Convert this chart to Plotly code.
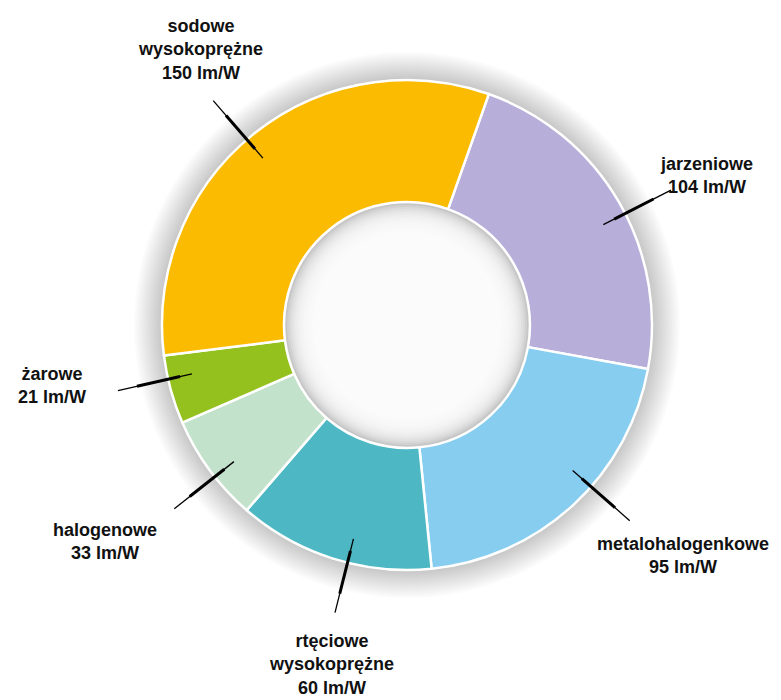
import math
import plotly.graph_objects as go

# Luminous efficacy of lamp types (lm/W)
names = ["jarzeniowe", "metalohalogenkowe", "rtęciowe<br>wysokoprężne",
         "halogenowe", "żarowe", "sodowe<br>wysokoprężne"]
efficacy = [104, 95, 60, 33, 21, 150]
unit = "lm/W"
colors = ["#B7AEDA", "#86CDF0", "#4DB8C3", "#C3E2CB", "#95C11F", "#FBBB00"]

W, H = 781, 700
CX, CY, R = 407, 325, 245          # donut centre and outer radius (px)
HOLE = 0.502
ROT = 19.5                          # first slice starts this many degrees clockwise from 12 o'clock


def px(x, y):
    return x / W, 1 - y / H


fig = go.Figure(go.Pie(
    values=efficacy,
    labels=[n.replace("<br>", " ") for n in names],
    sort=False,
    direction="clockwise",
    rotation=ROT,
    hole=HOLE,
    marker=dict(colors=colors, line=dict(color="white", width=2.5)),
    textinfo="none",
    hoverinfo="label+value",
    showlegend=False,
    domain=dict(x=[(CX - R) / W, (CX + R) / W],
                y=[1 - (CY + R) / H, 1 - (CY - R) / H]),
))

shapes = []
ax, ay = px(CX, CY)


def circle(r, fill, layer="below"):
    return dict(type="circle", xref="paper", yref="paper",
                xsizemode="pixel", ysizemode="pixel",
                xanchor=ax, yanchor=ay,
                x0=-r, x1=r, y0=-r, y1=r,
                fillcolor=fill, line=dict(width=0), layer=layer)


# soft grey halo around the ring
for k in range(28, 0, -2):
    shapes.append(circle(R + k, "rgba(0,0,0,0.014)"))

# shaded hollow in the middle, fading to white
r_in = R * HOLE - 2
shapes.append(circle(r_in, "#c6c6c6"))
r = r_in - 1
while r > 88:
    shapes.append(circle(r, "rgba(255,255,255,0.2)"))
    r -= 2

# leader lines, drawn radially through the middle of each slice
total = sum(efficacy)
angle_adjust = [3, -6, -3.5, -2, 2.5, -2]
start = ROT
mids = []
for v, adj in zip(efficacy, angle_adjust):
    span = v / total * 360
    mids.append(start + span / 2 + adj)
    start += span

for a in mids:
    t = math.radians(a)
    def pt(rr):
        return px(CX + rr * math.sin(t), CY - rr * math.cos(t))
    x0, y0 = pt(0.90 * R)
    x1, y1 = pt(1.21 * R)
    shapes.append(dict(type="line", xref="paper", yref="paper",
                       x0=x0, y0=y0, x1=x1, y1=y1,
                       line=dict(color="black", width=1.3), layer="above"))
    xm0, ym0 = pt(0.95 * R)
    xm1, ym1 = pt(1.13 * R)
    shapes.append(dict(type="line", xref="paper", yref="paper",
                       x0=xm0, y0=ym0, x1=xm1, y1=ym1,
                       line=dict(color="black", width=3), layer="above"))

# label block centres (px)
label_pos = [(706, 175), (683, 555), (331, 664), (105, 541), (52, 386), (200, 49)]
annotations = []
for n, v, (lx, ly) in zip(names, efficacy, label_pos):
    x, y = px(lx, ly)
    annotations.append(dict(
        x=x, y=y, xref="paper", yref="paper", showarrow=False,
        xanchor="center", yanchor="middle", align="center",
        text=f"<b>{n}<br>{v} {unit}</b>",
        font=dict(family="Liberation Sans, Arial, sans-serif", size=18, color="#111111"),
    ))

fig.update_layout(
    width=W, height=H, autosize=False,
    margin=dict(l=0, r=0, t=0, b=0),
    paper_bgcolor="white", plot_bgcolor="white",
    shapes=shapes, annotations=annotations,
)

fig.write_html("out.html")
